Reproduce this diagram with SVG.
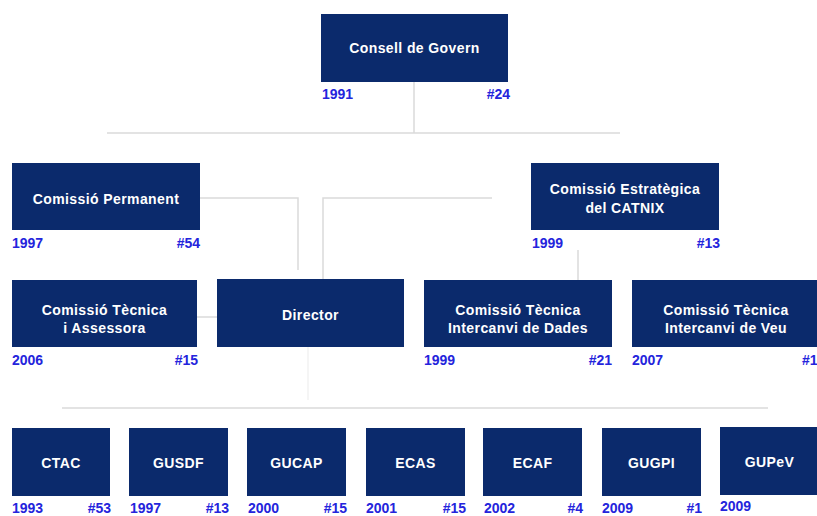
<svg xmlns="http://www.w3.org/2000/svg" width="817" height="516" viewBox="0 0 817 516">
<style>
.box{fill:#0b2a6c}
.t{font-family:"Liberation Sans",Arial,sans-serif;font-weight:bold;font-size:14px;fill:#ffffff;text-anchor:middle;letter-spacing:0.4px}
.l{font-family:"Liberation Sans",Arial,sans-serif;font-weight:bold;font-size:14px;fill:#2424dc}
.r{text-anchor:end}
.c{fill:none;stroke:#dadada;stroke-width:1.5}
.f{fill:none;stroke:#f2f2f2;stroke-width:1.5}
</style>
<rect width="817" height="516" fill="#ffffff"/>
<g id="connectors">
<path class="c" d="M414 82V133"/>
<path class="c" d="M107 133H620"/>
<path class="c" d="M200 198H298V270"/>
<path class="c" d="M323 279V198H492"/>
<path class="c" d="M578 250V280"/>
<path class="c" d="M197 317H217"/>
<path class="c" d="M62 408H768"/>
<path class="f" d="M308 347V400"/>
</g>
<g id="consell">
<rect class="box" x="321" y="14" width="187" height="68"/>
<text class="t" x="414.5" y="52.5">Consell de Govern</text>
<text class="l" x="322" y="99">1991</text>
<text class="l r" x="510" y="99">#24</text>
</g>
<g id="permanent">
<rect class="box" x="12" y="163" width="188" height="67"/>
<text class="t" x="106" y="204">Comissió Permanent</text>
<text class="l" x="12" y="248">1997</text>
<text class="l r" x="200" y="248">#54</text>
</g>
<g id="estrategica">
<rect class="box" x="531" y="163" width="188" height="67"/>
<text class="t" x="625" y="194">Comissió Estratègica</text>
<text class="t" x="625" y="212.5">del CATNIX</text>
<text class="l" x="532" y="248">1999</text>
<text class="l r" x="720" y="248">#13</text>
</g>
<g id="assessora">
<rect class="box" x="12" y="280" width="185" height="67"/>
<text class="t" x="104.5" y="315">Comissió Tècnica</text>
<text class="t" x="104.5" y="333">i Assessora</text>
<text class="l" x="12" y="365">2006</text>
<text class="l r" x="198" y="365">#15</text>
</g>
<g id="director">
<rect class="box" x="217" y="279" width="187" height="68"/>
<text class="t" x="310.5" y="320">Director</text>
</g>
<g id="dades">
<rect class="box" x="424" y="280" width="188" height="67"/>
<text class="t" x="518" y="315">Comissió Tècnica</text>
<text class="t" x="518" y="333">Intercanvi de Dades</text>
<text class="l" x="424" y="365">1999</text>
<text class="l r" x="612" y="365">#21</text>
</g>
<g id="veu">
<rect class="box" x="632" y="280" width="188" height="67"/>
<text class="t" x="726" y="315">Comissió Tècnica</text>
<text class="t" x="726" y="333">Intercanvi de Veu</text>
<text class="l" x="632" y="365">2007</text>
<text class="l" x="802" y="365">#1</text>
</g>
<g id="ctac">
<rect class="box" x="12" y="428" width="98" height="68"/>
<text class="t" x="61" y="468">CTAC</text>
<text class="l" x="12" y="513">1993</text>
<text class="l r" x="111" y="513">#53</text>
</g>
<g id="gusdf">
<rect class="box" x="129" y="428" width="99" height="68"/>
<text class="t" x="178.5" y="468">GUSDF</text>
<text class="l" x="130" y="513">1997</text>
<text class="l r" x="229" y="513">#13</text>
</g>
<g id="gucap">
<rect class="box" x="247" y="428" width="99" height="68"/>
<text class="t" x="296.5" y="468">GUCAP</text>
<text class="l" x="248" y="513">2000</text>
<text class="l r" x="347" y="513">#15</text>
</g>
<g id="ecas">
<rect class="box" x="366" y="428" width="99" height="68"/>
<text class="t" x="415.5" y="468">ECAS</text>
<text class="l" x="366" y="513">2001</text>
<text class="l r" x="466" y="513">#15</text>
</g>
<g id="ecaf">
<rect class="box" x="483" y="428" width="99" height="68"/>
<text class="t" x="532.5" y="468">ECAF</text>
<text class="l" x="484" y="513">2002</text>
<text class="l r" x="583" y="513">#4</text>
</g>
<g id="gugpi">
<rect class="box" x="602" y="428" width="99" height="68"/>
<text class="t" x="651.5" y="468">GUGPI</text>
<text class="l" x="602" y="513">2009</text>
<text class="l r" x="702" y="513">#1</text>
</g>
<g id="gupev">
<rect class="box" x="720" y="427" width="99" height="68"/>
<text class="t" x="769.5" y="467">GUPeV</text>
<text class="l" x="720" y="511">2009</text>
</g>
</svg>
